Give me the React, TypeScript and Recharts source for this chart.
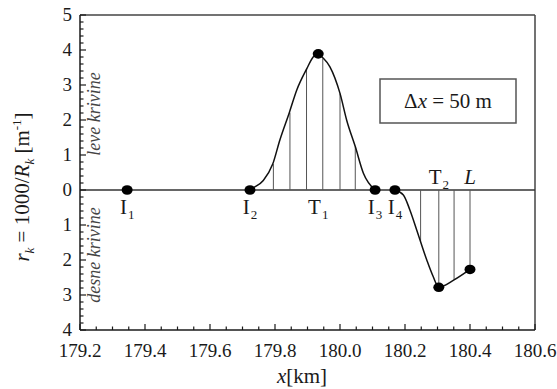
import React from 'react';
import { ComposedChart, Line, Scatter, XAxis, YAxis, ReferenceLine } from 'recharts';

const FONT = 'Liberation Serif, DejaVu Serif, Times New Roman, serif';
const INK = '#1a1a1a';
const serif = { fontFamily: FONT };

// curvature r_k = 1000/R_k along the chainage x [km] (right-hand curves negative)
const bumpX = [179.723, 179.733, 179.764, 179.793, 179.815, 179.844, 179.867, 179.898, 179.918, 179.933, 179.947, 179.969, 180.0, 180.021, 180.047, 180.072, 180.108];
const bumpR = [0, 0.06, 0.27, 0.74, 1.43, 2.21, 2.86, 3.47, 3.81, 3.89, 3.78, 3.52, 2.76, 1.98, 1.24, 0.48, 0];

const dipX = [180.169, 180.195, 180.215, 180.236, 180.267, 180.287, 180.304, 180.351, 180.4];
const dipR = [0, -0.14, -0.57, -1.14, -2.0, -2.48, -2.78, -2.57, -2.27];

// stations every 50 m
const stationX = [179.795, 179.846, 179.897, 179.947, 180.0, 180.047, 180.248, 180.304, 180.351, 180.4];
const stationR = [0.74, 2.21, 3.47, 3.76, 2.76, 1.24, -1.47, -2.78, -2.57, -2.27];

// characteristic points
const pointName = ['I', 'I', 'T', 'I', 'I', 'T', 'L'];
const pointSub = ['1', '2', '1', '3', '4', '2', ''];
const pointX = [179.345, 179.723, 179.933, 180.108, 180.169, 180.304, 180.4];
const pointR = [0, 0, 3.89, 0, 0, -2.78, -2.27];

const xTicks = Array.from({ length: 29 }, (_, k) => Math.round((179.2 + k * 0.05) * 100) / 100);
const yTicks = Array.from({ length: 46 }, (_, k) => Math.round((-4 + k * 0.2) * 10) / 10);

const bumpData = bumpX.map((x, i) => ({ x, r: bumpR[i] }));
const dipData = dipX.map((x, i) => ({ x, r: dipR[i] }));
const pointData = pointX.map((x, i) => ({ x, r: pointR[i], name: pointName[i], sub: pointSub[i] }));
const labelData = pointData.map((p) => ({ ...p, r: 0, side: p.r < 0 ? 'above' : 'below' }));

const isMajorX = (v: number) => Math.abs(((v - 179.2) / 0.2) - Math.round((v - 179.2) / 0.2)) < 1e-6;
const isMajorY = (v: number) => Math.abs(v - Math.round(v)) < 1e-6;

const XTick = (props: any) => {
  const { x, y, payload } = props;
  const major = isMajorX(payload.value);
  return (
    <g>
      <line x1={x} x2={x} y1={y} y2={y - (major ? 6 : 3.5)} stroke={INK} strokeWidth={1.2} />
      {major && (
        <text x={x} y={y + 27} textAnchor="middle" style={serif} fontSize={19} fill={INK}>
          {payload.value.toFixed(1)}
        </text>
      )}
    </g>
  );
};

const YTick = (props: any) => {
  const { x, y, payload } = props;
  const major = isMajorY(payload.value);
  return (
    <g>
      <line x1={x} x2={x + (major ? 6 : 3.5)} y1={y} y2={y} stroke={INK} strokeWidth={1.2} />
      {major && (
        <text x={x - 8} y={y + 6} textAnchor="end" style={serif} fontSize={19} fill={INK}>
          {Math.abs(Math.round(payload.value))}
        </text>
      )}
    </g>
  );
};

const Dot = (props: any) => {
  const { cx, cy } = props;
  return <ellipse cx={cx} cy={cy} rx={5.5} ry={4.8} fill="#000" />;
};

const PointLabel = (props: any) => {
  const { cx, cy, payload } = props;
  const below = payload.side === 'below';
  const y = below ? cy + 24 : cy - 6;
  const italic = payload.name === 'L';
  return (
    <text x={cx} y={y} textAnchor="middle" style={serif} fontSize={21} fill={INK} fontStyle={italic ? 'italic' : 'normal'}>
      {payload.name}
      {payload.sub && (
        <tspan dx={1} dy={5} fontSize={13}>
          {payload.sub}
        </tspan>
      )}
    </text>
  );
};

export default function App() {
  return (
    <div style={{ position: 'absolute', left: 0, top: 0, width: 557, height: 389, background: '#fff', fontFamily: FONT }}>
      <ComposedChart width={557} height={389} margin={{ top: 15, right: 22, bottom: 0, left: 0 }}>
        <XAxis
          dataKey="x"
          type="number"
          domain={[179.2, 180.6]}
          ticks={xTicks}
          interval={0}
          allowDataOverflow
          height={59}
          tickSize={0}
          tickMargin={0}
          tickLine={false}
          axisLine={{ stroke: INK, strokeWidth: 1.5 }}
          tick={<XTick />}
        />
        <YAxis
          type="number"
          domain={[-4, 5]}
          ticks={yTicks}
          interval={0}
          allowDataOverflow
          width={80}
          tickSize={0}
          tickMargin={0}
          tickLine={false}
          axisLine={{ stroke: INK, strokeWidth: 1.5 }}
          tick={<YTick />}
        />
        <ReferenceLine y={5} stroke="#444" strokeWidth={1.5} />
        <ReferenceLine x={180.6} stroke="#444" strokeWidth={1.5} />
        <ReferenceLine y={0} stroke="#333" strokeWidth={1.5} />
        {stationX.map((sx, i) => (
          <ReferenceLine
            key={sx}
            segment={[{ x: sx, y: 0 }, { x: sx, y: stationR[i] }]}
            stroke="#555"
            strokeWidth={1}
          />
        ))}
        <Line data={bumpData} dataKey="r" type="monotone" stroke="#111" strokeWidth={1.5} dot={false} isAnimationActive={false} />
        <Line data={dipData} dataKey="r" type="monotone" stroke="#111" strokeWidth={1.5} dot={false} isAnimationActive={false} />
        <Scatter data={pointData} dataKey="r" shape={<Dot />} isAnimationActive={false} />
        <Scatter data={labelData} dataKey="r" shape={<PointLabel />} isAnimationActive={false} />
      </ComposedChart>
      <svg width={557} height={389} style={{ position: 'absolute', left: 0, top: 0, pointerEvents: 'none', fontFamily: FONT }}>
        <g fill={INK}>
          <text transform="translate(29,187) rotate(-90)" textAnchor="middle" fontSize={21} style={serif}>
            <tspan fontStyle="italic">r</tspan>
            <tspan fontStyle="italic" fontSize={13} dy={5}>k</tspan>
            <tspan dy={-5}>{' = 1000/'}</tspan>
            <tspan fontStyle="italic">R</tspan>
            <tspan fontStyle="italic" fontSize={13} dy={5}>k</tspan>
            <tspan dy={-5}>{'  [m'}</tspan>
            <tspan fontSize={13} dy={-8}>-1</tspan>
            <tspan dy={8}>]</tspan>
          </text>
          <text x={302} y={383} textAnchor="middle" fontSize={21} style={serif}>
            <tspan fontStyle="italic">x</tspan>[km]
          </text>
          <text transform="translate(100,114) rotate(-90)" textAnchor="middle" fontSize={18} fontStyle="italic" fill="#444" style={serif}>
            leve krivine
          </text>
          <text transform="translate(100,255) rotate(-90)" textAnchor="middle" fontSize={18} fontStyle="italic" fill="#444" style={serif}>
            desne krivine
          </text>
          <rect x={380} y={79} width={136} height={44} fill="#fff" stroke="#555" strokeWidth={1.5} />
          <text x={448} y={108} textAnchor="middle" fontSize={21} style={serif}>
            Δ<tspan fontStyle="italic">x</tspan> = 50 m
          </text>
        </g>
      </svg>
    </div>
  );
}
